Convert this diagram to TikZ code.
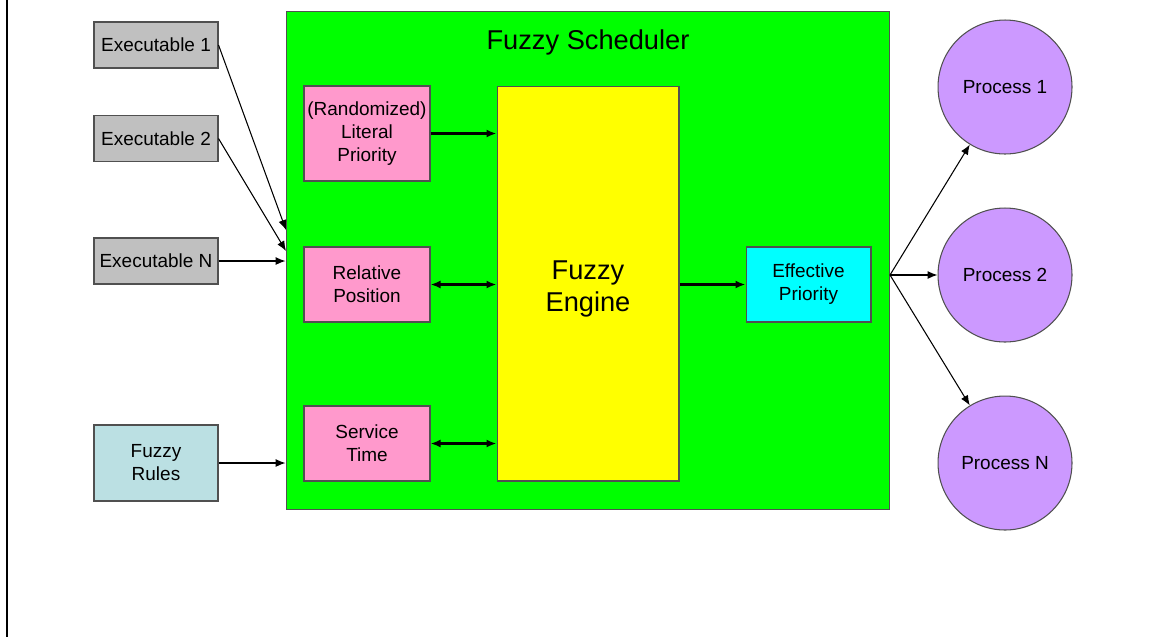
\documentclass[tikz,border=0pt]{standalone}
\usepackage{fontspec}
\setmainfont{Liberation Sans}
\usetikzlibrary{arrows.meta}
\definecolor{exegray}{RGB}{192,192,192}
\definecolor{rulesblue}{RGB}{187,224,227}
\definecolor{schedgreen}{RGB}{0,255,0}
\definecolor{inpink}{RGB}{255,153,204}
\definecolor{engyellow}{RGB}{255,255,0}
\definecolor{effcyan}{RGB}{0,255,255}
\definecolor{procpurple}{RGB}{204,153,255}
\definecolor{edgegray}{RGB}{80,80,80}
\tikzset{
  base/.style={draw=edgegray, line width=0.6pt, align=center, inner sep=1pt,
    font=\fontsize{10.8}{13.1}\selectfont},
  exebox/.style={base, fill=exegray, minimum width=2.48cm, minimum height=0.92cm},
  rulebox/.style={base, fill=rulesblue, minimum width=2.48cm, minimum height=1.52cm},
  inbox/.style={base, fill=inpink, minimum width=2.52cm, minimum height=1.5cm},
  effbox/.style={base, fill=effcyan, minimum width=2.5cm, minimum height=1.5cm},
  procnode/.style={base, circle, fill=procpurple, minimum size=2.68cm},
  tip/.tip={Latex[length=2mm, width=1.6mm]},
  feed/.style={-tip, line width=0.6pt},
  link/.style={-tip, line width=1.4pt},
  duplex/.style={tip-tip, line width=1.4pt},
}
\begin{document}
\begin{tikzpicture}[x=0.02cm, y=-0.02cm]
  \useasboundingbox (0,0) rectangle (1151,637);
  \draw[line width=1.5pt] (7,0) -- (7,637);

  % --- the scheduler and what sits inside it ---
  \node[base, fill=schedgreen, minimum width=12.08cm, minimum height=9.98cm]
    (sched) at (588,260.5) {};
  \node[font=\fontsize{15.5}{18}\selectfont] (title) at (588,42) {Fuzzy Scheduler};
  \node[inbox, minimum height=1.9cm] (literal) at (367,133.5)
    {(Randomized)\\Literal\\Priority};
  \node[inbox] (relpos) at (367,284.5) {Relative\\Position};
  \node[inbox] (service) at (367,443.5) {Service\\Time};
  \node[base, fill=engyellow, minimum width=3.64cm, minimum height=7.9cm]
    (engine) at (588,283.5) {};
  \node[align=center, font=\fontsize{15.5}{18.5}\selectfont]
    (engtext) at (588,289) {Fuzzy\\Engine};
  \node[effbox] (effective) at (808.5,284.5) {Effective\\Priority};

  % --- inputs on the left ---
  \node[exebox] (exe1) at (156,45) {Executable 1};
  \node[exebox] (exe2) at (156,138.5) {Executable 2};
  \node[exebox] (exeN) at (156,261) {Executable N};
  \node[rulebox] (rules) at (156,463) {Fuzzy\\Rules};

  % --- processes on the right ---
  \node[procnode] (proc1) at (1005,87) {Process 1};
  \node[procnode] (proc2) at (1005,275) {Process 2};
  \node[procnode] (procN) at (1005,463) {Process N};

  % entry and exit points on the scheduler border
  \coordinate (in1) at (286,230);
  \coordinate (in2) at (286,251);
  \coordinate (fan) at (890,275);

  \draw[feed] (exe1.east) -- (in1);
  \draw[feed] (exe2.east) -- (in2);
  \draw[feed] (exeN.east) -- (exeN.east -| sched.west);
  \draw[feed] (rules.east) -- (rules.east -| sched.west);

  \draw[link] (literal.east) -- (literal.east -| engine.west);
  \draw[duplex] (relpos.east) -- (relpos.east -| engine.west);
  \draw[duplex] (service.east) -- (service.east -| engine.west);
  \draw[link] (engine.east |- effective.west) -- (effective.west);

  \draw[feed] (fan) -- (proc1);
  \draw[feed] (fan) -- (proc2);
  \draw[feed] (fan) -- (procN);
\end{tikzpicture}
\end{document}
